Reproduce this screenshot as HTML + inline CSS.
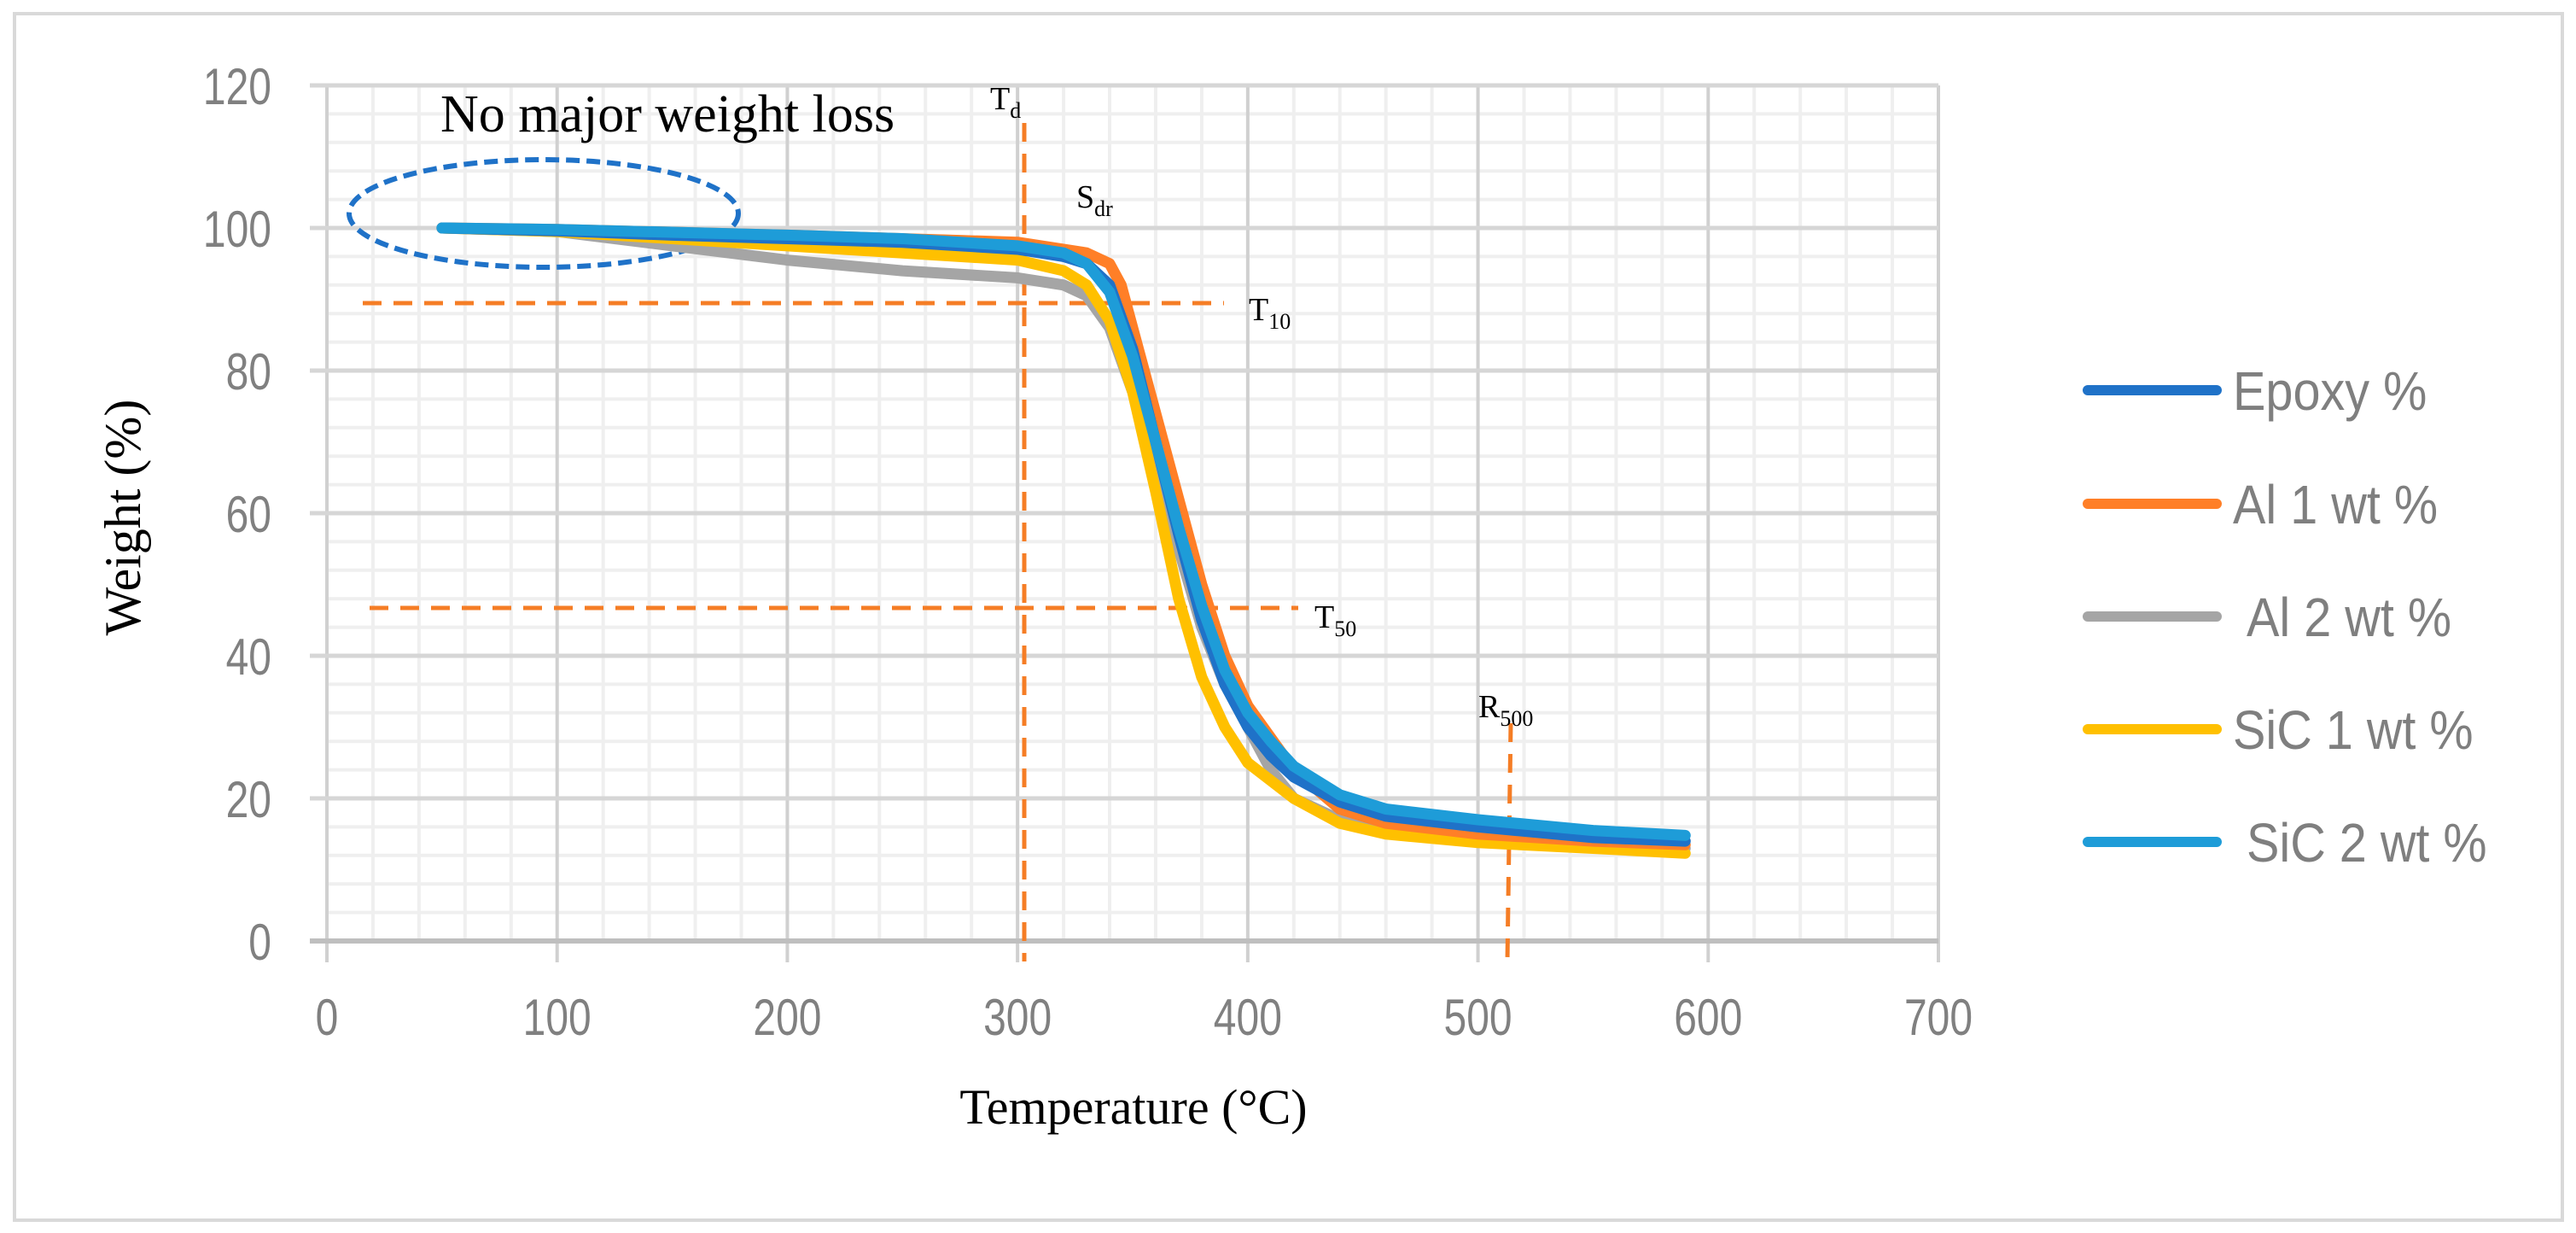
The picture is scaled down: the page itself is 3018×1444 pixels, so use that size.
<!DOCTYPE html>
<html><head><meta charset="utf-8"><style>
html,body{margin:0;padding:0;background:#fff;}
svg{display:block;}
</style></head><body>
<svg id="chart" width="3018" height="1444" viewBox="0 0 3018 1444" xmlns="http://www.w3.org/2000/svg">
<rect x="17" y="16" width="2985" height="1413" fill="#fff" stroke="#d9d9d9" stroke-width="4"/>
<g id="grid"></g>
<g id="ticks"></g>
<g id="annot"></g>
<g id="series"></g>
<g id="legend"></g>
<text x="164" y="606" transform="rotate(-90 164 606)" text-anchor="middle" font-family="Liberation Serif, serif" font-size="60" fill="#000">Weight (%)</text>
<text x="1328" y="1316" text-anchor="middle" font-family="Liberation Serif, serif" font-size="58" fill="#000">Temperature (°C)</text>
</svg>
<script>
const xTicks = [0,100,200,300,400,500,600,700];
const yTicks = [0,20,40,60,80,100,120];
const seriesNames = ["Epoxy %","Al 1 wt %","Al 2 wt %","SiC 1 wt %","SiC 2 wt %"];
const seriesColors = ["#1f72c8","#ff7f27","#a5a5a5","#ffc000","#1e9cd8"];
const epoxyT = [50,100,150,200,250,300,320,330,340,350,360,370,380,390,400,410,420,440,460,500,550,590];
const epoxyW = [100,99.6,99,98.5,98,97,96,95,92,83,70,57,45,36,30,26,23,19.5,17.5,16,14.5,14];
const al1T = [50,100,200,300,330,340,345,350,360,370,380,390,400,420,440,460,500,550,590];
const al1W = [100,99.8,99,98,96.5,95,92,86,74,62,50,40,33,24,18.5,16.5,15,14,13.5];
const al2T = [50,100,150,200,250,300,320,330,340,350,360,370,380,390,400,410,420,440,460,500,550,590];
const al2W = [100,99.5,97.5,95.5,94,93,92,90.5,86,77,66,55,44,36,30,24,20,17,16,14.5,13.5,13];
const sic1T = [50,100,150,200,250,300,320,330,340,350,360,370,380,390,400,420,440,460,500,550,590];
const sic1W = [100,99.5,98.5,97.5,96.5,95.5,94,92,87,77,63,48,37,30,25,20,16.5,15,13.8,13,12.3];
const sic2T = [50,100,200,250,300,320,330,340,350,360,370,380,390,400,410,420,440,460,500,550,590];
const sic2W = [100,99.8,99,98.5,97.5,96.5,95,91,82,70,58,47,38,32,28,24.5,20.5,18.5,17,15.5,14.8];

const X0=383, X1=2271, Y0=1102, Y1=100;
const xs = v => X0 + (v-0)/(700-0)*(X1-X0);
const ys = v => Y0 - (v-0)/(120-0)*(Y0-Y1);
const NS="http://www.w3.org/2000/svg";
function mk(tag, attrs, parent){const e=document.createElementNS(NS,tag);for(const k in attrs)e.setAttribute(k,attrs[k]);parent.appendChild(e);return e;}
const grid=document.getElementById('grid');
for(let v=0;v<=700;v+=20){if(v%100===0)continue;
 const l=mk('line',{x1:xs(v),x2:xs(v),y1:Y1,y2:Y0,stroke:'#efefef','stroke-width':4},grid);
 
 }
for(let v=0;v<=120;v+=4){if(v%20===0)continue;
 const l=mk('line',{x1:X0,x2:X1,y1:ys(v),y2:ys(v),stroke:'#efefef','stroke-width':4},grid);
 
 }
xTicks.forEach(v=>{
 const l=mk('line',{x1:xs(v),x2:xs(v),y1:Y1,y2:Y0+25,stroke:'#d0d0d0','stroke-width':4},grid);
 
 });
yTicks.forEach(v=>{
 const l=mk('line',{x1:X0-20,x2:X1,y1:ys(v),y2:ys(v),stroke:v===0?'#bfbfbf':'#d6d6d6','stroke-width':v===0?6:5},grid);
 
 });
const ticks=document.getElementById('ticks');
xTicks.forEach(v=>{
 const t=mk('text',{x:0,y:0,'text-anchor':'middle','font-family':'Liberation Sans, sans-serif','font-size':60,fill:'#808080',transform:'translate('+xs(v)+',1212) scale(0.8,1)'},ticks);
 t.textContent=v;
 
 });
yTicks.forEach(v=>{
 const t=mk('text',{x:0,y:0,'text-anchor':'end','font-family':'Liberation Sans, sans-serif','font-size':60,fill:'#808080',transform:'translate(318,'+(ys(v)+22)+') scale(0.8,1)'},ticks);
 t.textContent=v;
 
 });
const an=document.getElementById('annot');
const dash={stroke:'#f57d25','stroke-width':5,'stroke-dasharray':'22 14',fill:'none'};
[[1200,144,1200,1126,'td-line'],[425,355,1434,355,'t10-line'],[433,712,1521,712,'t50-line'],[1770,847,1766,1126,'r500-line']].forEach(a=>{
 const l=mk('line',Object.assign({x1:a[0],y1:a[1],x2:a[2],y2:a[3]},dash),an);
 
 });
const el=mk('ellipse',{cx:637,cy:250,rx:228,ry:63,fill:'none',stroke:'#1f72c8','stroke-width':6,'stroke-dasharray':'16 8'},an);


const nt=mk('text',{x:516,y:154,'font-family':'Liberation Serif, serif','font-size':62,fill:'#000'},an);
nt.textContent='No major weight loss';


[['T','d',1160,128,'td-label'],['S','dr',1261,243,'sdr-label'],['T','10',1463,375,'t10-label'],['T','50',1540,735,'t50-label'],['R','500',1732,840,'r500-label']].forEach(a=>{
 const t=mk('text',{x:a[2],y:a[3],'font-family':'Liberation Serif, serif','font-size':38,fill:'#000'},an);
 t.innerHTML=a[0]+'<tspan font-size="26" dy="10">'+a[1]+'</tspan>';
 
 });
const sg=document.getElementById('series');
const allT=[epoxyT,al1T,al2T,sic1T,sic2T], allW=[epoxyW,al1W,al2W,sic1W,sic2W];
const order=[2,3,1,0,4];
order.forEach(i=>{
 const pts=allT[i].map((t,j)=>xs(t).toFixed(1)+','+ys(allW[i][j]).toFixed(1)).join(' ');
 const p=mk('polyline',{points:pts,fill:'none',stroke:seriesColors[i],'stroke-width':13,'stroke-linejoin':'round','stroke-linecap':'round'},sg);
 
 });
const lg=document.getElementById('legend');
const legY=[457,590,722,854,986];
seriesNames.forEach((n,i)=>{
 const l=mk('line',{x1:2446,x2:2597,y1:legY[i],y2:legY[i],stroke:seriesColors[i],'stroke-width':12,'stroke-linecap':'round'},lg);
 
 
 const t=mk('text',{x:0,y:0,'font-family':'Liberation Sans, sans-serif','font-size':64,fill:'#7f7f7f',transform:'translate('+((i===2||i===4)?2632:2616)+','+(legY[i]+23)+') scale(0.9,1)'},lg);
 t.textContent=n;
 
 });
</script>
</body></html>
